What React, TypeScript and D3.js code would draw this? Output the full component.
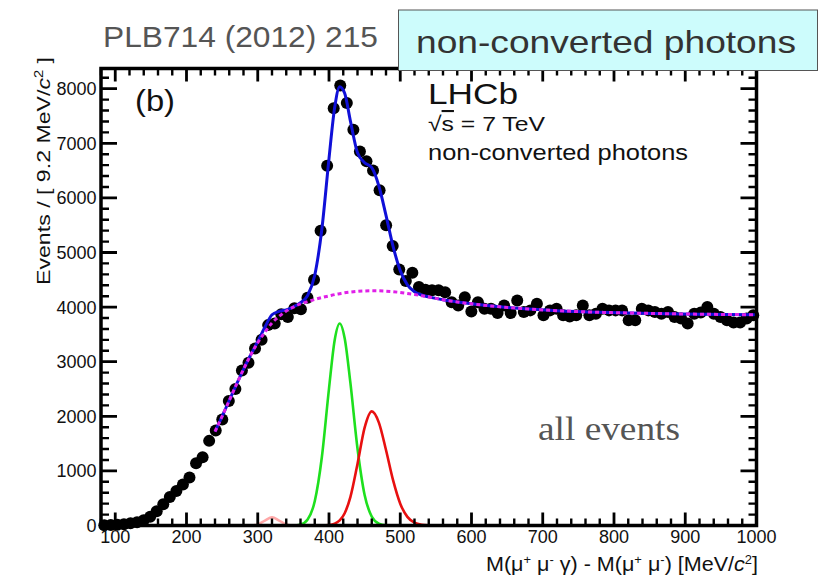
import React from 'react';
import * as d3 from 'd3';

// ---- data ----
const BIN_LO = 80;
const BIN_WIDTH = 9.2; // MeV/c^2
const counts = [
  5, 10, 15, 25, 40, 60, 95, 160, 260, 390,
  520, 630, 750, 880, 1140, 1250, 1550, 1740, 1940, 2280,
  2500, 2840, 2980, 3240, 3400, 3670, 3700, 3870, 3820, 3980,
  3960, 4170, 4500, 5400, 6590, 7640, 8060, 7740, 7250, 6850,
  6670, 6500, 6140, 5500, 5120, 4690, 4480, 4630, 4370, 4320,
  4310, 4310, 4270, 4090, 4030, 4180, 3920, 4090, 3970, 3970,
  3890, 4030, 3890, 4120, 3910, 3940, 4060, 3850, 3940, 3970,
  3850, 3830, 3850, 4030, 3850, 3880, 3970, 3940, 3940, 3940,
  3760, 3760, 3970, 3940, 3910, 3880, 3910, 3820, 3790, 3700,
  3880, 3900, 4000, 3880, 3820, 3760, 3720, 3720, 3790, 3850,
];

const fitX = [240, 250, 260, 270, 280, 290, 300, 310, 320, 330, 340, 350, 360, 370, 380, 390, 400, 408, 415, 422,
  430, 440, 450, 460, 470, 480, 490, 500, 510, 520, 530, 540, 550, 560, 580, 600, 640, 680, 720, 780, 850, 920, 1000];
const fitBkg = [1720, 2000, 2290, 2580, 2860, 3120, 3350, 3540, 3710, 3830, 3930, 4000, 4060, 4100, 4140, 4175, 4205, 4229, 4246, 4262,
  4275, 4288, 4296, 4300, 4298, 4292, 4282, 4268, 4250, 4230, 4208, 4185, 4160, 4135, 4095, 4060, 4005, 3965, 3935, 3905, 3885, 3870, 3860];
const fitChiC1 = [0, 0, 0, 0, 0, 0, 0, 0, 0, 0, 0, 2, 20, 112, 444, 1255, 2508, 3399, 3700, 3430,
  2615, 1410, 558, 163, 35, 6, 1, 0, 0, 0, 0, 0, 0, 0, 0, 0, 0, 0, 0, 0, 0, 0, 0];
const fitChiC2 = [0, 0, 0, 0, 0, 0, 0, 0, 0, 0, 0, 0, 0, 0, 0, 1, 8, 32, 92, 225,
  521, 1128, 1791, 2090, 1885, 1382, 825, 400, 158, 51, 13, 3, 0, 0, 0, 0, 0, 0, 0, 0, 0, 0, 0];
const fitChiC0 = [0, 0, 0, 0, 0, 2, 20, 91, 150, 91, 20, 2, 0, 0, 0, 0, 0, 0, 0, 0,
  0, 0, 0, 0, 0, 0, 0, 0, 0, 0, 0, 0, 0, 0, 0, 0, 0, 0, 0, 0, 0, 0, 0];

const xMajorTicks = [100, 200, 300, 400, 500, 600, 700, 800, 900, 1000];
const yMajorTicks = [0, 1000, 2000, 3000, 4000, 5000, 6000, 7000, 8000];

const SANS = '"Liberation Sans", Arial, Helvetica, sans-serif';
const SERIF = '"Liberation Serif", "Times New Roman", serif';

export default function App() {
  const W = 819, H = 579;
  const x = d3.scaleLinear().domain([80, 1000]).range([101, 756.5]);
  const y = d3.scaleLinear().domain([0, 8370]).range([525.5, 68.5]);
  const [x0, x1] = x.range();
  const [yb, yt] = y.range();

  const centers = counts.map((_, i) => BIN_LO + BIN_WIDTH * (i + 0.5));
  const total = fitX.map((_, i) => fitBkg[i] + fitChiC1[i] + fitChiC2[i] + fitChiC0[i]);

  const line = (vals: number[]) =>
    d3.line<number>()
      .x((_, i) => x(fitX[i]))
      .y((v) => y(v))
      .curve(d3.curveMonotoneX)(vals) || '';

  const xMinor = d3.range(80, 1001, 20).filter((v) => v % 100 !== 0);
  const yMinor = d3.range(0, 8370, 200).filter((v) => v % 1000 !== 0);

  const tickPaths: string[] = [];
  xMajorTicks.forEach((v) => {
    tickPaths.push(`M${x(v)},${yb}V${yb - 13}`);
    tickPaths.push(`M${x(v)},${yt}V${yt + 13}`);
  });
  yMajorTicks.forEach((v) => {
    tickPaths.push(`M${x0},${y(v)}H${x0 + 16}`);
    tickPaths.push(`M${x1},${y(v)}H${x1 - 16}`);
  });
  const minorPaths: string[] = [];
  xMinor.forEach((v) => {
    minorPaths.push(`M${x(v)},${yb}V${yb - 7}`);
    minorPaths.push(`M${x(v)},${yt}V${yt + 7}`);
  });
  yMinor.forEach((v) => {
    minorPaths.push(`M${x0},${y(v)}H${x0 + 8}`);
    minorPaths.push(`M${x1},${y(v)}H${x1 - 8}`);
  });

  return (
    <svg width={W} height={H} style={{ position: 'absolute', left: 0, top: 0, background: '#fff' }}>
      <rect x={0} y={0} width={W} height={H} fill="#fff" />
      {/* data points */}
      <g fill="#000">
        {counts.map((c, i) => (
          <circle key={i} cx={x(centers[i])} cy={y(c)} r={6} />
        ))}
      </g>
      {/* fit components */}
      <path d={line(fitChiC0)} fill="none" stroke="#ff8a8a" strokeOpacity={0.75} strokeWidth={2.5} />
      <path d={line(fitChiC1)} fill="none" stroke="#1ee01e" strokeWidth={2.6} />
      <path d={line(fitChiC2)} fill="none" stroke="#e81010" strokeWidth={2.6} />
      <path d={line(total)} fill="none" stroke="#1010d8" strokeWidth={3} />
      <path d={line(fitBkg)} fill="none" stroke="#e020e8" strokeWidth={3} strokeDasharray="4,3" />

      {/* frame and ticks */}
      <path d={minorPaths.join('')} stroke="#000" strokeWidth={2.4} />
      <path d={tickPaths.join('')} stroke="#000" strokeWidth={2.8} />
      <rect x={x0} y={yt} width={x1 - x0} height={yb - yt} fill="none" stroke="#000" strokeWidth={3.5} />

      {/* tick labels */}
      <g fontFamily={SANS} fontSize={18} fill="#111">
        {yMajorTicks.map((v) => (
          <text key={v} x={96.5} y={y(v) + 6.5} textAnchor="end">{v}</text>
        ))}
        {xMajorTicks.map((v) => (
          <text key={v} x={x(v)} y={543} textAnchor="middle">{v}</text>
        ))}
      </g>

      {/* axis titles */}
      <text transform="translate(50,57) rotate(-90)" textAnchor="end" fontFamily={SANS} fontSize={19} fill="#111"
        textLength={228} lengthAdjust="spacingAndGlyphs">
        Events / [ 9.2 MeV/<tspan fontStyle="italic">c</tspan><tspan dy={-7} fontSize={12}>2</tspan><tspan dy={7}> ]</tspan>
      </text>
      <text x={758} y={571} textAnchor="end" fontFamily={SANS} fontSize={20} fill="#111"
        textLength={272} lengthAdjust="spacingAndGlyphs">
        M(μ<tspan dy={-7} fontSize={12}>+</tspan><tspan dy={7}> μ</tspan><tspan dy={-7} fontSize={12}>-</tspan><tspan dy={7}> γ) - M(μ</tspan><tspan dy={-7} fontSize={12}>+</tspan><tspan dy={7}> μ</tspan><tspan dy={-7} fontSize={12}>-</tspan><tspan dy={7}>) [MeV/</tspan><tspan fontStyle="italic">c</tspan><tspan dy={-7} fontSize={12}>2</tspan><tspan dy={7}>]</tspan>
      </text>

      {/* in-plot labels */}
      <text x={135} y={111} fontFamily={SANS} fontSize={30} fill="#111" textLength={40} lengthAdjust="spacingAndGlyphs">(b)</text>
      <text x={428} y={103.5} fontFamily={SANS} fontSize={30} fill="#111" textLength={90} lengthAdjust="spacingAndGlyphs">LHCb</text>
      <text x={428} y={131} fontFamily={SANS} fontSize={21} fill="#111" textLength={117} lengthAdjust="spacingAndGlyphs">
        √<tspan textDecoration="overline">s</tspan> = 7 TeV
      </text>
      <text x={428} y={160} fontFamily={SANS} fontSize={22} fill="#111" textLength={260} lengthAdjust="spacingAndGlyphs">non-converted photons</text>
      <text x={538} y={440} fontFamily={SERIF} fontSize={33} fill="#555" textLength={142} lengthAdjust="spacingAndGlyphs">all events</text>

      {/* header */}
      <text x={103} y={47} fontFamily={SANS} fontSize={30} fill="#555" textLength={275} lengthAdjust="spacingAndGlyphs">PLB714 (2012) 215</text>
      <rect x={398.5} y={10} width={419} height={60.5} fill="#cdfcfc" stroke="#555" strokeWidth={1} />
      <text x={416} y={53} fontFamily={SANS} fontSize={32} fill="#333" textLength={380} lengthAdjust="spacingAndGlyphs">non-converted photons</text>
    </svg>
  );
}
